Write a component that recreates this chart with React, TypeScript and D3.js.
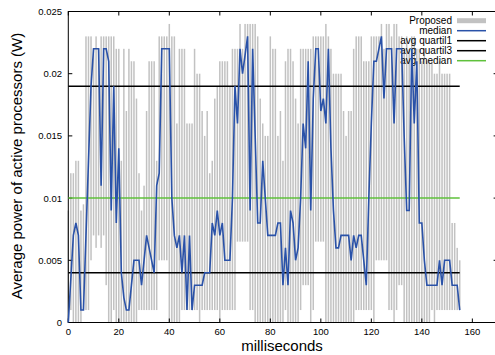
import React from "react";
import * as d3 from "d3";

// per-millisecond values (W)
const median = [
  0, 0.0035, 0.007, 0.008, 0.007, 0.001, 0.001, 0.007, 0.013, 0.019,
  0.022, 0.022, 0.022, 0.011, 0.022, 0.022, 0.021, 0.009, 0.019, 0.008,
  0.014, 0.004, 0.002, 0.001, 0.001, 0.003, 0.005, 0.005, 0.005, 0.003,
  0.005, 0.007, 0.006, 0.005, 0.004, 0.011, 0.012, 0.022, 0.022, 0.022,
  0.022, 0.01, 0.007, 0.006, 0.007, 0.004, 0.007, 0.001, 0.007, 0.001,
  0.003, 0.003, 0.003, 0.003, 0.004, 0.004, 0.004, 0.008, 0.007, 0.009,
  0.007, 0.008, 0.005, 0.005, 0.005, 0.01, 0.019, 0.016, 0.022, 0.02,
  0.0215, 0.023, 0.009, 0.022, 0.015, 0.008, 0.008, 0.013, 0.01, 0.007,
  0.007, 0.007, 0.007, 0.008, 0.008, 0.003, 0.006, 0.003, 0.009, 0.008,
  0.005, 0.006, 0.01, 0.016, 0.014, 0.021, 0.009, 0.018, 0.022, 0.022,
  0.017, 0.018, 0.016, 0.022, 0.014, 0.009, 0.006, 0.006, 0.007, 0.007,
  0.007, 0.007, 0.005, 0.007, 0.006, 0.007, 0.007, 0.005, 0.003, 0.01,
  0.016, 0.021, 0.021, 0.022, 0.023, 0.018, 0.022, 0.022, 0.022, 0.016,
  0.022, 0.022, 0.022, 0.015, 0.009, 0.009, 0.022, 0.016, 0.021, 0.008,
  0.008, 0.005, 0.003, 0.003, 0.003, 0.003, 0.003, 0.005, 0.003, 0.005,
  0.005, 0.005, 0.003, 0.003, 0.003, 0.001,
];

const upper = [
  0.009, 0.012, 0.012, 0.013, 0.013, 0.009, 0.0095, 0.023, 0.023, 0.023,
  0.022, 0.023, 0.022, 0.023, 0.023, 0.023, 0.023, 0.023, 0.023, 0.022,
  0.022, 0.013, 0.022, 0.017, 0.022, 0.021, 0.021, 0.018, 0.012, 0.009,
  0.011, 0.017, 0.021, 0.021, 0.021, 0.013, 0.023, 0.023, 0.023, 0.023,
  0.024, 0.023, 0.023, 0.016, 0.022, 0.022, 0.022, 0.016, 0.016, 0.016,
  0.022, 0.02, 0.02, 0.017, 0.015, 0.017, 0.012, 0.013, 0.018, 0.019,
  0.021, 0.021, 0.021, 0.021, 0.019, 0.022, 0.022, 0.022, 0.024, 0.022,
  0.024, 0.024, 0.024, 0.024, 0.024, 0.023, 0.018, 0.016, 0.015, 0.015,
  0.023, 0.022, 0.022, 0.015, 0.017, 0.013, 0.021, 0.022, 0.022, 0.021,
  0.018, 0.016, 0.022, 0.022, 0.022, 0.022, 0.022, 0.023, 0.023, 0.023,
  0.023, 0.023, 0.024, 0.023, 0.022, 0.02, 0.02, 0.02, 0.02, 0.017,
  0.015, 0.017, 0.017, 0.022, 0.023, 0.023, 0.023, 0.021, 0.021, 0.021,
  0.023, 0.023, 0.023, 0.023, 0.024, 0.022, 0.024, 0.024, 0.023, 0.024,
  0.024, 0.023, 0.023, 0.022, 0.023, 0.022, 0.023, 0.023, 0.022, 0.022,
  0.021, 0.022, 0.021, 0.021, 0.021, 0.02, 0.02, 0.021, 0.02, 0.02,
  0.02, 0.02, 0.008, 0.008, 0.006, 0.005,
];

const lower = [
  0, 0.001, 0, 0, 0, 0, 0.001, 0.001, 0.001, 0.005,
  0.007, 0.006, 0.007, 0.006, 0.007, 0.003, 0, 0, 0.001, 0,
  0, 0, 0, 0, 0, 0, 0, 0, 0.001, 0.001,
  0.001, 0.001, 0.001, 0.001, 0.001, 0.001, 0.005, 0.005, 0.005, 0.005,
  0, 0, 0, 0, 0, 0.001, 0.001, 0.001, 0.001, 0.001,
  0.001, 0.001, 0, 0.001, 0.001, 0.001, 0.001, 0.001, 0.001, 0.001,
  0, 0.001, 0.001, 0.001, 0.001, 0.001, 0.001, 0.0065, 0.0065, 0.0065,
  0.0065, 0.0065, 0.001, 0.001, 0, 0, 0, 0, 0, 0,
  0, 0, 0, 0, 0, 0, 0.001, 0, 0, 0,
  0, 0, 0.001, 0.003, 0.003, 0.003, 0, 0.001, 0.0065, 0.0065,
  0.0065, 0.0065, 0, 0, 0, 0, 0, 0, 0, 0,
  0, 0, 0, 0, 0.001, 0.001, 0.001, 0.001, 0.001, 0.001,
  0.001, 0, 0.005, 0.005, 0.005, 0.005, 0.005, 0.001, 0.001, 0,
  0.001, 0.003, 0.003, 0, 0, 0, 0, 0, 0, 0,
  0, 0, 0, 0, 0.001, 0, 0.001, 0.001, 0.001, 0.001,
  0.001, 0.001, 0.001, 0.001, 0.001, 0.001,
];

const avgQuartil1 = 0.004;
const avgQuartil3 = 0.019;
const avgMedian = 0.01;

const xTicks = [0, 20, 40, 60, 80, 100, 120, 140, 160];
const yTicks = [0, 0.005, 0.01, 0.015, 0.02, 0.025];
const yTickLabels = ["0", "0.005", "0.01", "0.015", "0.02", "0.025"];
const legendLabels = ["Proposed", "median", "avg quartil1", "avg quartil3", "avg median"];

const font = "'Liberation Sans', Arial, Helvetica, sans-serif";

export default function App() {
  const width = 495;
  const height = 355;
  const left = 68.3;
  const top = 11.5;
  const right = 497.6;
  const bottom = 322.5;

  const x = d3.scaleLinear().domain([0, 170]).range([left, right]);
  const y = d3.scaleLinear().domain([0, 0.025]).range([bottom, top]);

  const ms = median.map((_, i) => i);
  const lastMs = ms[ms.length - 1];

  const medianPath = d3
    .line<number>()
    .x((_, i) => x(ms[i]))
    .y((d) => y(d))(median) as string;

  const barW = 1.5;
  const tickLen = 4;

  const hLine = (v: number, color: string, key: string) => (
    <line
      key={key}
      x1={x(0)}
      x2={x(lastMs)}
      y1={y(v)}
      y2={y(v)}
      stroke={color}
      strokeWidth={1.5}
    />
  );

  const legendX = 452;
  const sampleX1 = 457;
  const sampleX2 = 486;
  const rowY = (i: number) => 20.7 + i * 10;

  return (
    <svg
      width={width}
      height={height}
      style={{ position: "absolute", left: 0, top: 0, background: "#fff" }}
      fontFamily={font}
    >
      {/* bars */}
      <g fill="#c2c2c2">
        {ms.map((t, i) => (
          <rect
            key={t}
            x={x(t) - barW / 2}
            y={y(upper[i])}
            width={barW}
            height={y(lower[i]) - y(upper[i])}
          />
        ))}
      </g>

      {/* frame */}
      <rect x={left} y={top} width={right - left} height={bottom - top} fill="none" stroke="#000" strokeWidth={1} />

      {/* ticks */}
      <g stroke="#000" strokeWidth={1}>
        {xTicks.map((t) => (
          <g key={"xt" + t}>
            <line x1={x(t)} x2={x(t)} y1={bottom} y2={bottom - tickLen} />
            <line x1={x(t)} x2={x(t)} y1={top} y2={top + tickLen} />
          </g>
        ))}
        {yTicks.map((v) => (
          <g key={"yt" + v}>
            <line x1={left} x2={left + tickLen} y1={y(v)} y2={y(v)} />
            <line x1={right} x2={right - tickLen} y1={y(v)} y2={y(v)} />
          </g>
        ))}
      </g>

      {/* tick labels */}
      <g fontSize={9.5} fill="#000">
        {xTicks.map((t) => (
          <text key={"xl" + t} x={x(t)} y={335.3} textAnchor="middle">
            {t}
          </text>
        ))}
        {yTicks.map((v, i) => (
          <text key={"yl" + v} x={62} y={y(v) + 3.4} textAnchor="end">
            {yTickLabels[i]}
          </text>
        ))}
      </g>

      {/* axis labels */}
      <text x={282} y={351} textAnchor="middle" fontSize={15} fill="#000">
        milliseconds
      </text>
      <text
        transform="translate(22,166) rotate(-90)"
        textAnchor="middle"
        fontSize={15}
        fill="#000"
      >
        Average power of active processors (W)
      </text>

      {/* average lines */}
      {hLine(avgQuartil3, "#000", "q3")}
      {hLine(avgQuartil1, "#000", "q1")}
      {hLine(avgMedian, "#5fc13b", "med")}

      {/* legend */}
      <g fontSize={10} fill="#000">
        {legendLabels.map((label, i) => (
          <text key={label} x={legendX} y={rowY(i) + 3.5} textAnchor="end">
            {label}
          </text>
        ))}
      </g>
      <rect x={sampleX1} y={rowY(0) - 2.5} width={sampleX2 - sampleX1} height={5} fill="#c2c2c2" />
      <line x1={sampleX1} x2={sampleX2} y1={rowY(1)} y2={rowY(1)} stroke="#2a52a8" strokeWidth={1.5} />
      <line x1={sampleX1} x2={sampleX2} y1={rowY(2)} y2={rowY(2)} stroke="#000" strokeWidth={1.5} />
      <line x1={sampleX1} x2={sampleX2} y1={rowY(3)} y2={rowY(3)} stroke="#000" strokeWidth={1.5} />
      <line x1={sampleX1} x2={sampleX2} y1={rowY(4)} y2={rowY(4)} stroke="#5fc13b" strokeWidth={1.5} />

      {/* median */}
      <path d={medianPath} fill="none" stroke="#2a52a8" strokeWidth={1.6} strokeLinejoin="miter" />
    </svg>
  );
}
